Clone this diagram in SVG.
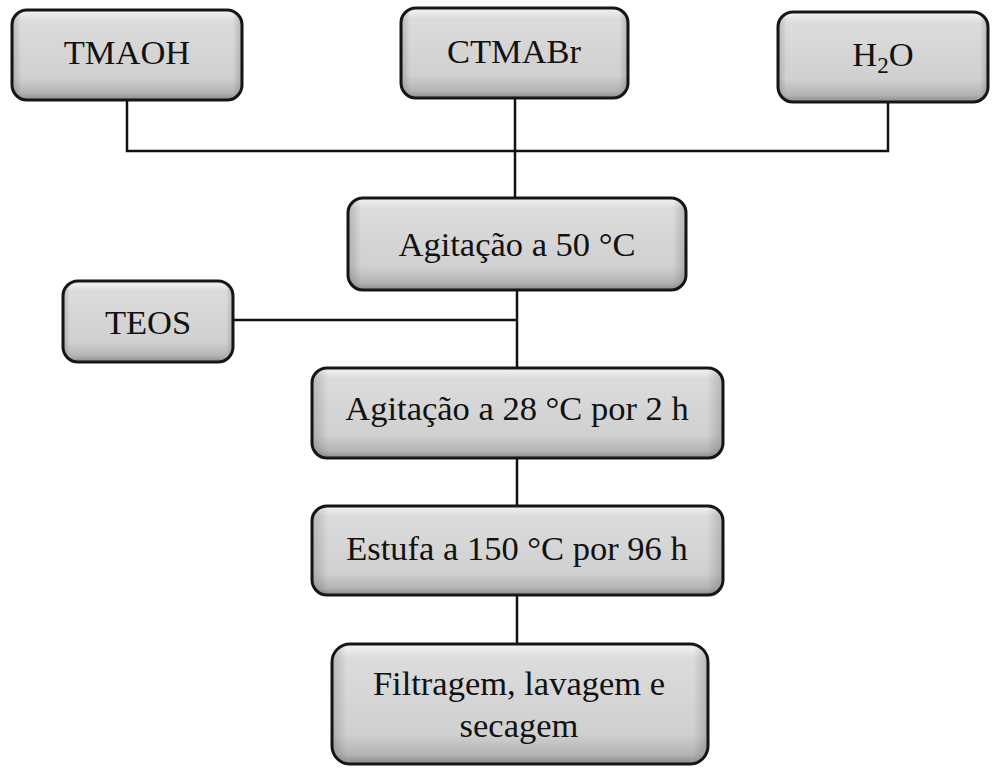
<svg xmlns="http://www.w3.org/2000/svg" width="992" height="770" viewBox="0 0 992 770">
  <defs>
    <linearGradient id="boxFill" x1="0" y1="0" x2="0" y2="1">
      <stop offset="0" stop-color="#f4f4f4"/>
      <stop offset="0.12" stop-color="#dcdcdc"/>
      <stop offset="0.75" stop-color="#d0d0d0"/>
      <stop offset="0.92" stop-color="#b4b4b4"/>
      <stop offset="1" stop-color="#8a8a8a"/>
    </linearGradient>
    <linearGradient id="boxSide" x1="0" y1="0" x2="1" y2="0">
      <stop offset="0" stop-color="#000" stop-opacity="0.18"/>
      <stop offset="0.04" stop-color="#000" stop-opacity="0"/>
      <stop offset="0.96" stop-color="#000" stop-opacity="0"/>
      <stop offset="1" stop-color="#000" stop-opacity="0.18"/>
    </linearGradient>
  </defs>
  <style>
    .box { fill: url(#boxFill); stroke: #161616; stroke-width: 3; }
    .side { fill: url(#boxSide); stroke: none; }
    .label { font-family: "Liberation Serif", "Times New Roman", serif; font-size: 34.5px; fill: #111; text-anchor: middle; }
    .sub { font-size: 23px; }
    .link { fill: none; stroke: #111; stroke-width: 2.5; }
  </style>

  <rect width="992" height="770" fill="#fff"/>

  <!-- connectors -->
  <g id="connectors">
    <polyline class="link" points="127,100 127,151 888,151 888,102"/>
    <line class="link" x1="515" y1="98" x2="515" y2="198"/>
    <line class="link" x1="233" y1="320" x2="517" y2="320"/>
    <line class="link" x1="517" y1="290" x2="517" y2="368"/>
    <line class="link" x1="517" y1="458" x2="517" y2="506"/>
    <line class="link" x1="517" y1="595" x2="517" y2="644"/>
  </g>

  <!-- reagents -->
  <g id="tmaoh">
    <rect class="box" x="12" y="10" width="230" height="90" rx="15"/>
    <rect class="side" x="12" y="10" width="230" height="90" rx="15"/>
    <text class="label" x="127" y="64">TMAOH</text>
  </g>
  <g id="ctmabr">
    <rect class="box" x="401" y="8" width="227" height="90" rx="15"/>
    <rect class="side" x="401" y="8" width="227" height="90" rx="15"/>
    <text class="label" x="514" y="63">CTMABr</text>
  </g>
  <g id="h2o">
    <rect class="box" x="778" y="12" width="210" height="90" rx="15"/>
    <rect class="side" x="778" y="12" width="210" height="90" rx="15"/>
    <text class="label" x="883" y="66">H<tspan class="sub" dy="7">2</tspan><tspan dy="-7">O</tspan></text>
  </g>

  <!-- process steps -->
  <g id="agitacao50">
    <rect class="box" x="348" y="198" width="338" height="92" rx="15"/>
    <rect class="side" x="348" y="198" width="338" height="92" rx="15"/>
    <text class="label" x="517" y="256">Agitação a 50 °C</text>
  </g>
  <g id="teos">
    <rect class="box" x="63" y="281" width="170" height="81" rx="15"/>
    <rect class="side" x="63" y="281" width="170" height="81" rx="15"/>
    <text class="label" x="148" y="334">TEOS</text>
  </g>
  <g id="agitacao28">
    <rect class="box" x="312" y="368" width="411" height="90" rx="15"/>
    <rect class="side" x="312" y="368" width="411" height="90" rx="15"/>
    <text class="label" x="517" y="420">Agitação a 28 °C por 2 h</text>
  </g>
  <g id="estufa">
    <rect class="box" x="312" y="506" width="411" height="89" rx="15"/>
    <rect class="side" x="312" y="506" width="411" height="89" rx="15"/>
    <text class="label" x="517" y="560">Estufa a 150 °C por 96 h</text>
  </g>
  <g id="filtragem">
    <rect class="box" x="332" y="644" width="376" height="120" rx="18"/>
    <rect class="side" x="332" y="644" width="376" height="120" rx="18"/>
    <text class="label" x="519" y="695">Filtragem, lavagem e</text>
    <text class="label" x="519" y="737">secagem</text>
  </g>
</svg>
